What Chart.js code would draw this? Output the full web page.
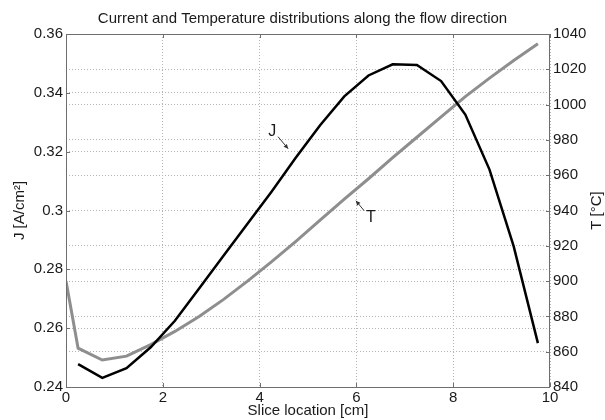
<!DOCTYPE html>
<html>
<head>
<meta charset="utf-8">
<title>Current and Temperature distributions</title>
<script src="https://cdn.jsdelivr.net/npm/chart.js@4.4.1/dist/chart.umd.min.js"></script>
<style>
    html, body { margin: 0; padding: 0; background: #fff; }
    #wrap { width: 605px; height: 420px; }
</style>
</head>
<body>
<div id="wrap"><canvas id="chart" width="605" height="420"></canvas></div>
<script>
// Slice centres along the flow direction [cm]
const sliceX = [0.25, 0.75, 1.25, 1.75, 2.25, 2.75, 3.25, 3.75, 4.25, 4.75,
                5.25, 5.75, 6.25, 6.75, 7.25, 7.75, 8.25, 8.75, 9.25, 9.75];
// Current density J [A/cm2] per slice
const currentJ = [0.2478, 0.2431, 0.2464, 0.2535, 0.2625, 0.2735, 0.2845, 0.2955, 0.3065, 0.3180,
                  0.3290, 0.3388, 0.3459, 0.3497, 0.3495, 0.3440, 0.3326, 0.3139, 0.2878, 0.2549];
// Temperature: inlet value at 0 cm, then one per slice
const tempX = [0, 0.25, 0.75, 1.25, 1.75, 2.25, 2.75, 3.25, 3.75, 4.25, 4.75,
               5.25, 5.75, 6.25, 6.75, 7.25, 7.75, 8.25, 8.75, 9.25, 9.75];
const tempT = [900, 862, 855.3, 857.5, 864, 871.5, 880, 889.5, 900, 911, 922.5,
               934.5, 946.5, 958, 970, 981.5, 993, 1004.5, 1015, 1025, 1034.5];

// Tick values
const xTicks = [0, 2, 4, 6, 8, 10];
const jTicks = [0.24, 0.26, 0.28, 0.30, 0.32, 0.34, 0.36];
const tTicks = [840, 860, 880, 900, 920, 940, 960, 980, 1000, 1020, 1040];

// Text
const titleText = 'Current and Temperature distributions along the flow direction';
const xTitle = 'Slice location [cm]';
const jTitle = 'J [A/cm\u00B2]';
const tTitle = 'T [\u00B0C]';

// Callout labels: [x, value] for the text and the arrow tip
const jLabel = { text: 'J', at: [4.26, 0.3268], from: [4.38, 0.3251], to: [4.59, 0.3210] };
const tLabel = { text: 'T', at: [6.30, 935.9], from: [6.16, 939.9], to: [5.99, 945.5] };

const FONT = '"Liberation Sans", Arial, sans-serif';
const textColor = '#1a1a1a';
const boxColor = '#6e6e6e';
const gridColor = '#b4b4b4';

function fixTicks(values) {
    return scale => { scale.ticks = values.map(v => ({ value: v })); };
}

// Axes box, inward tick marks, right axis title and the J / T callouts
const decorPlugin = {
    id: 'decor',
    afterDatasetsDraw(chart) {
        const { ctx, chartArea: a, scales } = chart;
        ctx.save();
        ctx.strokeStyle = boxColor;
        ctx.lineWidth = 1;
        ctx.setLineDash([]);
        ctx.strokeRect(Math.round(a.left) + 0.5, Math.round(a.top) + 0.5,
                       Math.round(a.right - a.left) - 1, Math.round(a.bottom - a.top));

        const tk = 4;
        ctx.beginPath();
        xTicks.forEach(v => {
            const px = Math.round(scales.x.getPixelForValue(v)) + 0.5;
            ctx.moveTo(px, a.bottom); ctx.lineTo(px, a.bottom - tk);
            ctx.moveTo(px, a.top); ctx.lineTo(px, a.top + tk);
        });
        jTicks.forEach(v => {
            const py = Math.round(scales.yJ.getPixelForValue(v)) + 0.5;
            ctx.moveTo(a.left, py); ctx.lineTo(a.left + tk, py);
        });
        tTicks.forEach(v => {
            const py = Math.round(scales.yT.getPixelForValue(v)) + 0.5;
            ctx.moveTo(a.right, py); ctx.lineTo(a.right - tk, py);
        });
        ctx.stroke();

        // right axis title, rotated like the left one
        ctx.fillStyle = textColor;
        ctx.font = '15px ' + FONT;
        ctx.textAlign = 'center';
        ctx.textBaseline = 'middle';
        ctx.save();
        ctx.translate(597, (a.top + a.bottom) / 2);
        ctx.rotate(-Math.PI / 2);
        ctx.fillText(tTitle, 0, 0);
        ctx.restore();

        // callouts
        const callout = (lab, yScale) => {
            const p = v => [scales.x.getPixelForValue(v[0]), yScale.getPixelForValue(v[1])];
            const [tx, ty] = p(lab.at);
            const [fx, fy] = p(lab.from);
            const [ex, ey] = p(lab.to);
            ctx.font = '16px ' + FONT;
            ctx.fillStyle = textColor;
            ctx.fillText(lab.text, tx, ty);
            ctx.strokeStyle = '#333';
            ctx.fillStyle = '#333';
            ctx.lineWidth = 1;
            ctx.beginPath();
            ctx.moveTo(fx, fy); ctx.lineTo(ex, ey);
            ctx.stroke();
            const ang = Math.atan2(ey - fy, ex - fx);
            const hl = 5;
            ctx.beginPath();
            ctx.moveTo(ex, ey);
            ctx.lineTo(ex - hl * Math.cos(ang - 0.45), ey - hl * Math.sin(ang - 0.45));
            ctx.lineTo(ex - hl * Math.cos(ang + 0.45), ey - hl * Math.sin(ang + 0.45));
            ctx.closePath();
            ctx.fill();
        };
        callout(jLabel, scales.yJ);
        callout(tLabel, scales.yT);
        ctx.restore();
    }
};

const ctx = document.getElementById('chart').getContext('2d');
const chart = new Chart(ctx, {
    type: 'line',
    data: {
        datasets: [{
            label: 'J',
            data: sliceX.map((x, i) => ({ x: x, y: currentJ[i] })),
            yAxisID: 'yJ',
            borderColor: '#000000',
            borderWidth: 2.5,
            pointRadius: 0,
            tension: 0,
            fill: false
        }, {
            label: 'T',
            data: tempX.map((x, i) => ({ x: x, y: tempT[i] })),
            yAxisID: 'yT',
            borderColor: '#8e8e8e',
            borderWidth: 3,
            pointRadius: 0,
            tension: 0,
            fill: false
        }]
    },
    options: {
        responsive: false,
        animation: false,
        devicePixelRatio: 1,
        layout: { padding: 0 },
        plugins: {
            legend: { display: false },
            tooltip: { enabled: false },
            title: {
                display: true,
                text: titleText,
                color: textColor,
                font: { family: FONT, size: 15, weight: 'normal' },
                padding: { top: 10, bottom: 6 }
            }
        },
        scales: {
            x: {
                type: 'linear',
                min: 0,
                max: 10,
                afterBuildTicks: fixTicks(xTicks),
                afterFit: scale => { scale.height = 33; },
                ticks: {
                    color: textColor,
                    font: { family: FONT, size: 15 },
                    padding: 2,
                    maxRotation: 0,
                    callback: v => String(v)
                },
                grid: { color: gridColor, drawTicks: false },
                border: { display: false, dash: [1, 2] },
                title: {
                    display: true,
                    text: xTitle,
                    color: textColor,
                    font: { family: FONT, size: 15 },
                    padding: { top: 0, bottom: 0 }
                }
            },
            yJ: {
                type: 'linear',
                position: 'left',
                min: 0.24,
                max: 0.36,
                afterBuildTicks: fixTicks(jTicks),
                afterFit: scale => { scale.width = 66; },
                ticks: {
                    color: textColor,
                    font: { family: FONT, size: 15 },
                    padding: 3,
                    callback: v => String(+v.toFixed(2))
                },
                grid: { color: gridColor, drawTicks: false },
                border: { display: false, dash: [1, 2] },
                title: {
                    display: true,
                    text: jTitle,
                    color: textColor,
                    font: { family: FONT, size: 15 },
                    padding: { top: 11, bottom: 0 }
                }
            },
            yT: {
                type: 'linear',
                position: 'right',
                min: 840,
                max: 1040,
                afterBuildTicks: fixTicks(tTicks),
                afterFit: scale => { scale.width = 55; },
                ticks: {
                    color: textColor,
                    font: { family: FONT, size: 15 },
                    padding: 3,
                    callback: v => String(v)
                },
                grid: { color: gridColor, drawTicks: false, drawOnChartArea: true },
                border: { display: false, dash: [1, 2] }
            }
        }
    },
    plugins: [decorPlugin]
});
</script>
</body>
</html>
